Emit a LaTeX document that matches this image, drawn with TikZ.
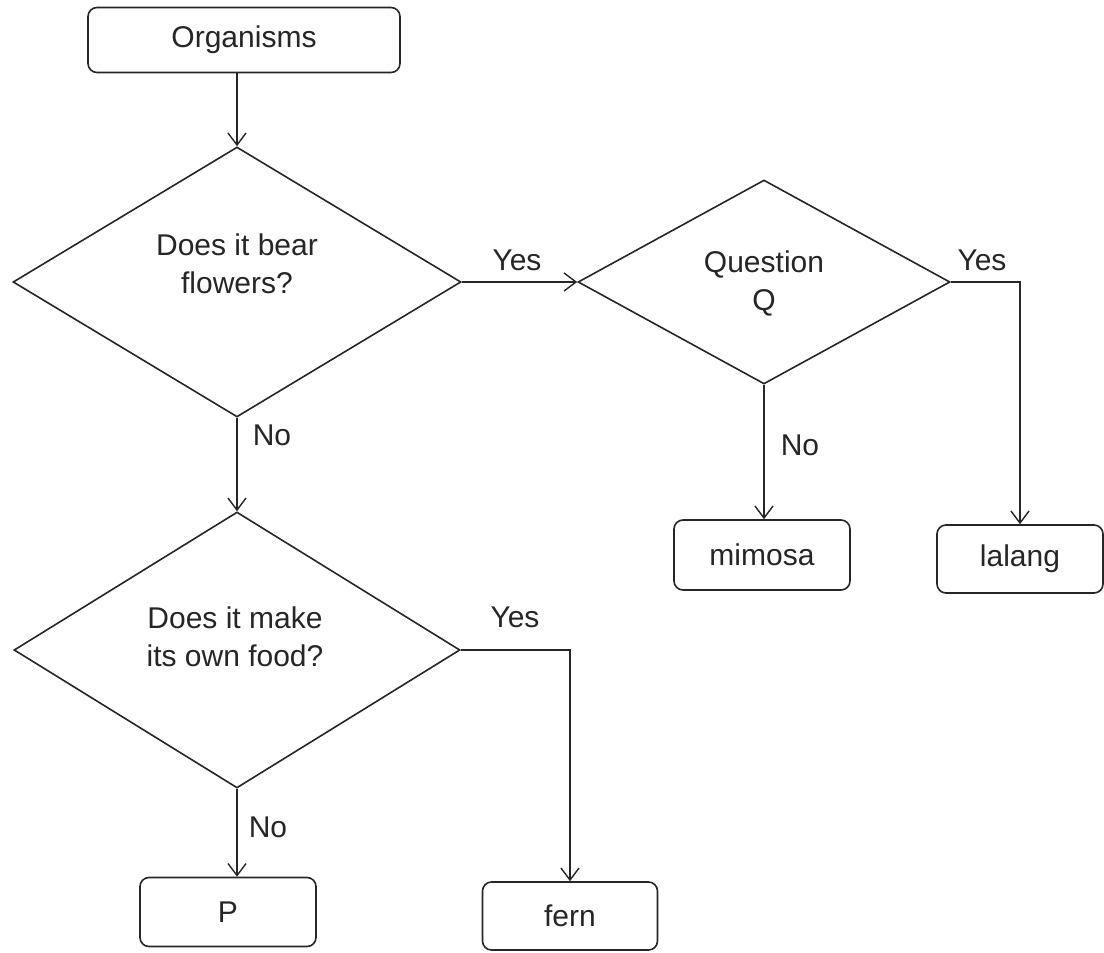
\documentclass[tikz,border=0pt]{standalone}
\usepackage{fontspec}
\setmainfont{Liberation Sans}
\usetikzlibrary{shapes.geometric,arrows.meta}
\begin{document}
\begin{tikzpicture}[x=1pt,y=-1pt,
  every node/.style={text=black!85, font=\fontsize{30pt}{38pt}\selectfont},
  boxnode/.style={draw=black!85, rounded corners=9pt, minimum width=#1, minimum height=68pt, inner sep=0pt, line width=1.6pt},
  diam/.style={draw=black!85, diamond, inner sep=0pt, line width=1.6pt},
  conn/.style={draw=black!85, line width=1.4pt, -{Straight Barb[length=12pt,width=18pt,line width=1.4pt]}}
]
\useasboundingbox[fill=white] (0,0) rectangle (1104,953);

% boxes
\node[boxnode=312pt, minimum height=65pt] (org) at (244,40) {Organisms};
\node[boxnode=176pt, minimum height=70pt] (mimosa) at (762,555) {mimosa};
\node[boxnode=166pt, minimum height=68pt] (lalang) at (1020,559) {lalang};
\node[boxnode=176pt, minimum height=69pt] (P) at (228,912) {P};
\node[boxnode=175pt, minimum height=68pt] (fern) at (570,916) {fern};

% diamonds
\node[diam, minimum width=448pt, minimum height=270pt] (d1) at (237,282) {};
\node[align=center] (d1t) at (237,264) {Does it bear\\flowers?};
\node[diam, minimum width=372pt, minimum height=204pt] (d2) at (764,282) {};
\node[align=center] (d2t) at (764,283) {Question\\Q};
\node[diam, minimum width=446pt, minimum height=276pt] (d3) at (237,650) {};
\node[align=center] (d3t) at (235,637) {Does it make\\its own food?};

% connectors
\draw[conn] (org.south -| d1.north) -- (d1.north);
\draw[conn] (d1.east) -- (d2.west);
\draw[conn] (d1.south) -- (d3.north);
\draw[conn] (d2.east) -| (lalang.north);
\draw[conn] (d2.south) -- (d2.south |- mimosa.north);
\draw[conn] (d3.east) -| (fern.north);
\draw[conn] (d3.south) -- (d3.south |- P.north);

% labels
\node (y1) at (517,260) {Yes};
\node (n1) at (272,435) {No};
\node (y2) at (982,260) {Yes};
\node (n2) at (800,445) {No};
\node (y3) at (515,617) {Yes};
\node (n3) at (268,827) {No};
\end{tikzpicture}
\end{document}
